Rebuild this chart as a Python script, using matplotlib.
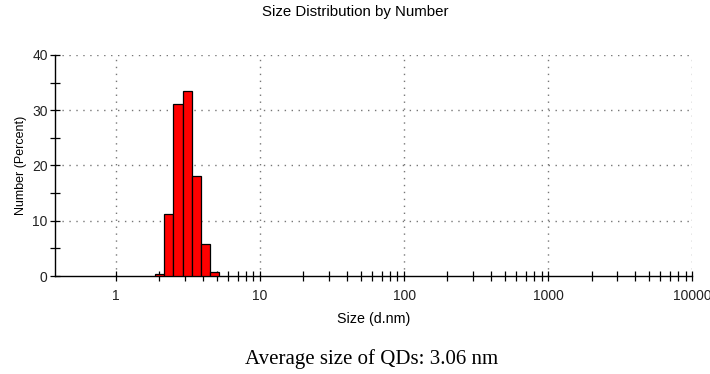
import numpy as np
import matplotlib
matplotlib.use("Agg")
import matplotlib.pyplot as plt
from matplotlib.ticker import FixedLocator, NullFormatter

plt.rcParams["font.family"] = ["Liberation Sans", "DejaVu Sans"]

# Malvern size classes (d.nm) and number percentages
sizes = [2.010, 2.328, 2.696, 3.122, 3.615, 4.187, 4.849]
number_pct = [0.3, 11.2, 31.1, 33.5, 18.1, 5.8, 0.8]
x_ticks = [1, 10, 100, 1000, 10000]
x_ticklabels = ["1", "10", "100", "1000", "10000"]
y_ticks = [0, 10, 20, 30, 40]

ratio = 10 ** (np.log10(10000 / 0.4) / 70)
sizes = np.array(sizes)
left = sizes / np.sqrt(ratio)
right = sizes * np.sqrt(ratio)

fig = plt.figure(figsize=(7.1, 3.74), dpi=100)
ax = fig.add_axes([0.078, 0.262, 0.897, 0.591])

ax.bar(left, number_pct, width=right - left, align="edge",
       color="#ff0000", edgecolor="black", linewidth=0.9, zorder=3)

ax.set_xscale("log")
ax.set_xlim(0.38, 10000)
ax.set_ylim(0, 40)

ax.xaxis.set_major_locator(FixedLocator(x_ticks))
ax.set_xticklabels(x_ticklabels)
minor_x = [m * d for d in [1, 10, 100, 1000] for m in range(2, 10)]
ax.xaxis.set_minor_locator(FixedLocator(minor_x))
ax.xaxis.set_minor_formatter(NullFormatter())
ax.set_yticks(y_ticks)
ax.set_yticks([5, 15, 25, 35], minor=True)

ax.tick_params(which="both", direction="inout", color="black", width=0.9, length=7)
ax.tick_params(axis="x", which="major", pad=6, labelsize=10, labelcolor="#222222")
ax.tick_params(axis="y", which="major", pad=2, labelsize=10, labelcolor="#222222")

for s in ["top", "right"]:
    ax.spines[s].set_visible(False)
ax.spines["left"].set_linewidth(1.0)
ax.spines["bottom"].set_linewidth(1.0)

for y in [10, 20, 30, 40]:
    ax.axhline(y, color="#777777", linestyle=(0, (1, 4)), linewidth=1, zorder=1)
for x in x_ticks:
    ax.axvline(x, color="#777777", linestyle=(0, (1, 4)), linewidth=1, zorder=1)

ax.set_xlabel("Size (d.nm)", fontsize=10.3, labelpad=6)
ax.set_ylabel("Number (Percent)", fontsize=9, labelpad=4)
fig.text(0.5, 0.967, "Size Distribution by Number", ha="center", va="center", fontsize=10.8)
fig.text(0.523, 0.04, "Average size of QDs: 3.06 nm", ha="center", va="center",
         fontsize=15, family=["Liberation Serif", "DejaVu Serif"])

fig.savefig("out.png", dpi=100)
